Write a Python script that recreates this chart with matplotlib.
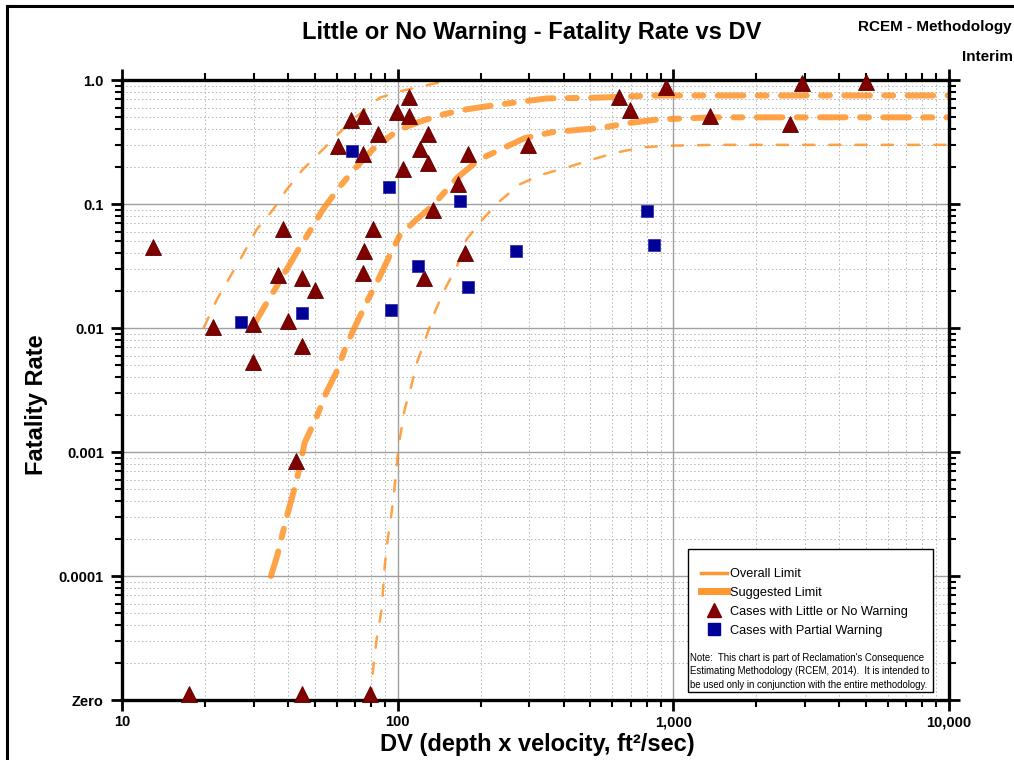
import matplotlib
matplotlib.use('Agg')
import matplotlib.pyplot as plt
from matplotlib.lines import Line2D
from matplotlib.patches import Rectangle
from matplotlib.ticker import FixedLocator, FixedFormatter, LogLocator, NullFormatter

plt.rcParams['font.family'] = ['Liberation Sans', 'DejaVu Sans']

# Cases with little or no warning (DV, fatality rate)
little_dv = [12.95, 21.4, 29.8, 29.8, 36.7, 38.3, 39.9, 44.9, 44.9, 42.7,
             50.0, 60.6, 67.6, 74.7, 74.7, 84.6, 75.3, 74.7, 81.2, 99.2,
             109.6, 109.6, 104.2, 128.5, 120.2, 128.5, 134, 124.2, 165, 179.3,
             174.9, 298, 637, 694, 944, 1361, 2655, 2931, 5000]
little_fr = [0.0446, 0.0101, 0.0107, 0.00527, 0.027, 0.0634, 0.0113, 0.0255, 0.00722, 0.00085,
             0.0204, 0.291, 0.48, 0.508, 0.251, 0.37, 0.042, 0.028, 0.0623, 0.547,
             0.723, 0.508, 0.19, 0.37, 0.28, 0.216, 0.090, 0.0255, 0.146, 0.255,
             0.0406, 0.30, 0.735, 0.568, 0.87, 0.517, 0.438, 0.94, 0.97]

# little-warning cases with zero fatalities (drawn on the "Zero" row)
zero_dv = [17.5, 45, 79.6]
zero_fr = [1.12e-5, 1.12e-5, 1.12e-5]

# Cases with partial warning
partial_dv = [27.0, 44.9, 68.1, 92.8, 94.3, 119, 169, 179.3, 268, 805, 853]
partial_fr = [0.0111, 0.0131, 0.27, 0.138, 0.0140, 0.0319, 0.105, 0.0216, 0.0414, 0.0886, 0.047]

# Limit curves
overall_hi_dv = [19.8, 22.1, 27.2, 30.8, 35.3, 39.6, 45.3, 52.2, 61.6, 68.7, 86.1, 101.7, 130.7, 157]
overall_hi_fr = [0.0101, 0.017, 0.0377, 0.0623, 0.090, 0.131, 0.19, 0.26, 0.377, 0.48, 0.72, 0.81, 0.92, 1.0]

suggest_hi_dv = [29.9, 32.4, 35.3, 43.0, 49.2, 53.5, 61.6, 71.0, 81.1, 93.5, 101.7, 120, 142, 178,
                 228, 347, 526, 840, 10000]
suggest_hi_fr = [0.0103, 0.0141, 0.0193, 0.0406, 0.066, 0.090, 0.138, 0.20, 0.275, 0.35, 0.40, 0.46,
                 0.52, 0.58, 0.63, 0.71, 0.72, 0.75, 0.75]

suggest_lo_dv = [34.7, 36.5, 39.6, 43.1, 46.0, 50.9, 55.3, 60.1, 64.3, 68.7, 77.8, 86.1, 95.9, 101.7,
                 117, 134, 165, 198, 248, 289, 365, 540, 694, 868, 1384, 10000]
suggest_lo_fr = [1.0e-4, 1.44e-4, 3.0e-4, 6.0e-4, 1.19e-3, 1.93e-3, 3.08e-3, 4.46e-3, 6.7e-3, 9.4e-3,
                 0.0167, 0.026, 0.043, 0.0557, 0.075, 0.097, 0.164, 0.229, 0.29, 0.34, 0.38, 0.41,
                 0.45, 0.48, 0.50, 0.50]

overall_lo_dv = [80.5, 81.2, 83.9, 87.5, 89.7, 92.0, 95.1, 97.5, 100, 101.7, 106, 112, 118, 127, 137,
                 148, 164, 178, 203, 234, 277, 335, 420, 509, 621, 772, 944, 1384, 10000]
overall_lo_fr = [1.0e-5, 1.66e-5, 3.1e-5, 5.4e-5, 1.19e-4, 1.97e-4, 3.25e-4, 5.3e-4, 9.2e-4, 1.26e-3,
                 2.2e-3, 3.4e-3, 5.4e-3, 8.5e-3, 0.0138, 0.0204, 0.0313, 0.052, 0.075, 0.105, 0.144,
                 0.173, 0.20, 0.229, 0.26, 0.286, 0.295, 0.30, 0.30]

y_ticks = [1e-5, 1e-4, 1e-3, 1e-2, 1e-1, 1.0]
y_labels = ['Zero', '0.0001', '0.001', '0.01', '0.1', '1.0']
x_ticks = [10, 100, 1000, 10000]
x_labels = ['10', '100', '1,000', '10,000']

orange = '#ff8c1a'
maroon = '#800000'
navy = '#000099'

fig = plt.figure(figsize=(10.14, 7.6), dpi=100)
ax = fig.add_axes([122/1014, 1-700/760, 827/1014, 620/760])
ax.set_xscale('log')
ax.set_yscale('log')
ax.set_xlim(10, 10000)
ax.set_ylim(1e-5, 1.0)

# grid
ax.grid(which='major', color='#a0a0a0', lw=1.0, ls='-')
ax.grid(which='minor', color='#b4b4b4', lw=0.7, ls=(0, (1.5, 2.5)))
ax.set_axisbelow(True)

thin = dict(color=orange, alpha=0.8, lw=1.8, dashes=(4.5, 6.0), dash_capstyle='round')
thick = dict(color=orange, alpha=0.8, lw=4.3, dashes=(4.3, 2.4, 1.5, 2.4), dash_capstyle='round')
ax.plot(overall_hi_dv, overall_hi_fr, **thin)
ax.plot(overall_lo_dv, overall_lo_fr, **thin)
ax.plot(suggest_hi_dv, suggest_hi_fr, **thick)
ax.plot(suggest_lo_dv, suggest_lo_fr, **thick)

ax.plot(little_dv, little_fr, ls='none', marker='^', ms=11.5, color=maroon, mec='#5a0000', mew=0.6,
        clip_on=False, zorder=4)
ax.plot(zero_dv, zero_fr, ls='none', marker='^', ms=11.5, color=maroon, mec='#5a0000', mew=0.6,
        clip_on=False, zorder=4)
ax.plot(partial_dv, partial_fr, ls='none', marker='s', ms=8.5, color=navy, mec='#3333aa', mew=0.6,
        clip_on=False, zorder=4)

# ticks
ax.yaxis.set_major_locator(FixedLocator(y_ticks))
ax.yaxis.set_major_formatter(FixedFormatter(y_labels))
ax.yaxis.set_minor_locator(LogLocator(base=10, subs=range(2, 10), numticks=20))
ax.yaxis.set_minor_formatter(NullFormatter())
ax.xaxis.set_major_locator(FixedLocator(x_ticks))
ax.xaxis.set_major_formatter(FixedFormatter(x_labels))
ax.xaxis.set_minor_locator(LogLocator(base=10, subs=range(2, 10), numticks=20))
ax.xaxis.set_minor_formatter(NullFormatter())
ax.tick_params(which='both', direction='out', top=True, right=True, color='black')
ax.tick_params(which='major', length=8, width=2)
ax.tick_params(which='minor', length=5, width=1.5)
ax.tick_params(axis='both', which='major', labelsize=10.5, pad=3)
ax.tick_params(axis='y', which='major', pad=5)
for lab in ax.get_xticklabels() + ax.get_yticklabels():
    lab.set_fontweight('bold')
for sp in ax.spines.values():
    sp.set_linewidth(2.4)

# legend box with note
ax.add_patch(Rectangle((0.684, 0.013), 0.297, 0.2305, transform=ax.transAxes,
                       facecolor='white', edgecolor='black', lw=1.0, zorder=5))
handles = [Line2D([], [], color=orange, lw=2.5, alpha=0.9),
           Line2D([], [], color=orange, lw=5, alpha=0.9),
           Line2D([], [], ls='none', marker='^', ms=10, color=maroon),
           Line2D([], [], ls='none', marker='s', ms=8, color=navy)]
labels = ['Overall Limit', 'Suggested Limit', 'Cases with Little or No Warning', 'Cases with Partial Warning']
leg = ax.legend(handles, labels, loc='upper left', bbox_to_anchor=(0.6955, 0.219), frameon=False,
                fontsize=9.2, handlelength=2.0, handletextpad=0.3, labelspacing=0.54,
                borderpad=0.3, borderaxespad=0)
leg.set_zorder(6)
ax.text(0.687, 0.016,
        "Note:  This chart is part of Reclamation's Consequence\n"
        "Estimating Methodology (RCEM, 2014).  It is intended to\n"
        "be used only in conjunction with the entire methodology.",
        transform=ax.transAxes, fontsize=6.9, linespacing=1.45, va='bottom', ha='left', zorder=6)

# titles and labels
fig.text(532/1014, 1-33/760, 'Little or No Warning - Fatality Rate vs DV', ha='center', va='center',
         fontsize=17, fontweight='bold')
fig.text(858/1014, 1-27/760, 'RCEM - Methodology', ha='left', va='center', fontsize=11, fontweight='bold')
fig.text(962/1014, 1-57/760, 'Interim', ha='left', va='center', fontsize=11, fontweight='bold')
fig.text(537/1014, 1-745/760, 'DV (depth x velocity, ft²/sec)', ha='center', va='center',
         fontsize=17, fontweight='bold')
fig.text(37/1014, 1-405/760, 'Fatality Rate', ha='center', va='center', rotation=90,
         fontsize=17, fontweight='bold')

# page frame
fig.add_artist(Line2D([7/1014, 7/1014], [0, 1-6/760], color='black', lw=2.2, transform=fig.transFigure))
fig.add_artist(Line2D([7/1014, 1], [1-6/760, 1-6/760], color='black', lw=2.2, transform=fig.transFigure))

fig.savefig('out.png', dpi=100)
